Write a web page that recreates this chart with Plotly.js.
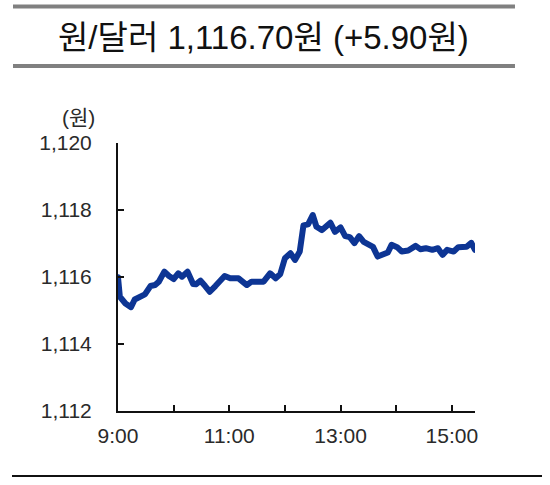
<!DOCTYPE html>
<html>
<head>
<meta charset="utf-8">
<script src="https://cdn.plot.ly/plotly-3.0.1.min.js"></script>
<style>
html,body{margin:0;padding:0;background:#fff;}
#chart{width:550px;height:485px;}
.js-line{stroke-linejoin:round;stroke-linecap:round;}
</style>
</head>
<body>
<div id="chart"></div>
<script>
const times = ["09:00","09:02","09:08","09:14","09:18","09:24","09:29","09:35","09:40","09:44","09:50","09:55",
"10:00","10:05","10:09","10:15","10:21","10:24","10:29","10:34","10:39","10:45","10:50","10:55",
"11:01","11:10","11:19","11:24","11:37","11:44","11:50","11:55",
"12:00","12:06","12:11","12:16","12:20","12:25","12:30","12:34","12:40","12:45","12:49","12:54",
"13:00","13:05","13:10","13:15","13:20","13:25","13:30","13:35","13:40","13:46","13:51","13:55",
"14:01","14:06","14:13","14:21","14:26","14:32","14:39","14:45","14:50","14:55",
"15:02","15:07","15:12","15:16","15:21","15:25"];
const rates = [1115.99,1115.41,1115.21,1115.10,1115.33,1115.41,1115.48,1115.73,1115.76,1115.86,1116.16,1116.03,
1115.94,1116.11,1116.01,1116.16,1115.79,1115.78,1115.89,1115.73,1115.56,1115.73,1115.86,1116.03,
1115.96,1115.96,1115.76,1115.86,1115.86,1116.11,1115.96,1116.09,
1116.56,1116.71,1116.51,1116.76,1117.54,1117.57,1117.85,1117.50,1117.40,1117.54,1117.62,1117.35,
1117.48,1117.22,1117.19,1117.01,1117.22,1117.05,1116.99,1116.90,1116.61,1116.66,1116.73,1116.96,
1116.89,1116.76,1116.79,1116.93,1116.83,1116.86,1116.81,1116.86,1116.66,1116.81,
1116.76,1116.89,1116.90,1116.90,1117.02,1116.81];
const hourTicks = ["09:00","10:00","11:00","12:00","13:00","14:00","15:00"];
const hourLabels = ["9:00","","11:00","","13:00","","15:00"];
const yTicks = [1112,1114,1116,1118,1120];
const yLabels = ["1,112","1,114","1,116","1,118","1,120"];
const titleText = "원/달러 1,116.70원 (+5.90원)";
const unitText = "(원)";

const day = "2024-01-02 ";
const toDate = t => day + t + ":00";

const FONT = "Liberation Sans, Arial, Noto Sans CJK KR, sans-serif";

const trace = {
  x: times.map(toDate),
  y: rates,
  type: "scatter",
  mode: "lines",
  line: {color: "#0d3594", width: 6},
  hoverinfo: "skip"
};

const layout = {
  width: 550, height: 485,
  margin: {l: 118, r: 75, t: 143, b: 74},
  paper_bgcolor: "#fff", plot_bgcolor: "#fff",
  showlegend: false,
  font: {family: FONT, color: "#222", size: 21},
  xaxis: {
    type: "date",
    range: [toDate("09:00"), toDate("15:25")],
    tickvals: hourTicks.map(toDate),
    ticktext: hourLabels,
    ticks: "inside", ticklen: 6, tickwidth: 2, tickcolor: "#111",
    showline: true, linecolor: "#111", linewidth: 2,
    showgrid: false, zeroline: false,
    ticklabelstandoff: 5,
    tickfont: {size: 21, color: "#2a2a2a", family: FONT},
    fixedrange: true
  },
  yaxis: {
    range: [1112, 1120],
    tickvals: yTicks,
    ticktext: yLabels,
    ticks: "inside", ticklen: 6, tickwidth: 2, tickcolor: "#111",
    showline: true, linecolor: "#111", linewidth: 2,
    showgrid: false, zeroline: false,
    ticklabelstandoff: 20,
    tickfont: {size: 21, color: "#2a2a2a", family: FONT},
    fixedrange: true
  },
  shapes: [
    {type: "line", xref: "paper", yref: "paper", x0: -0.2941, x1: 1.1120, y0: 1.5093, y1: 1.5093, line: {color: "#808080", width: 4}},
    {type: "line", xref: "paper", yref: "paper", x0: -0.2941, x1: 1.1120, y0: 1.2873, y1: 1.2873, line: {color: "#808080", width: 4}},
    {type: "line", xref: "paper", yref: "paper", x0: -0.2969, x1: 1.1877, y0: -0.2425, y1: -0.2425, line: {color: "#111", width: 2}}
  ],
  annotations: [
    {text: titleText, xref: "paper", yref: "paper", x: 0.4076, y: 1.3955, xanchor: "center", yanchor: "middle", showarrow: false,
     font: {size: 33, color: "#111", family: FONT}},
    {text: unitText, xref: "paper", yref: "paper", x: -0.112, y: 1.0933, xanchor: "center", yanchor: "middle", showarrow: false,
     font: {size: 21, color: "#2a2a2a", family: FONT}}
  ]
};

Plotly.newPlot("chart", [trace], layout, {displayModeBar: false, staticPlot: true});
</script>
</body>
</html>
